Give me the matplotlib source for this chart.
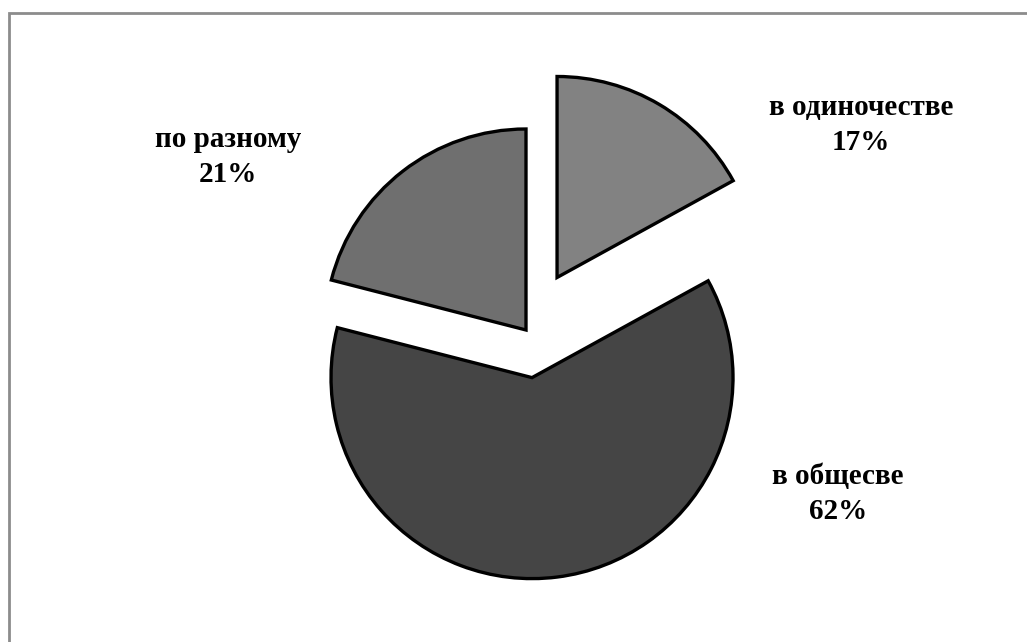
import matplotlib.pyplot as plt
from matplotlib.patches import Rectangle

# Shares of answers
labels = ['в одиночестве', 'в общесве', 'по разному']
shares = [17, 62, 21]
colors = ['#828282', '#454545', '#6f6f6f']

W, H = 1027, 642
fig = plt.figure(figsize=(W / 100, H / 100), dpi=100)
ax = fig.add_axes([0, 0, 1, 1])

# axes in pixel units so the pie can be placed directly
ax.pie(shares, colors=colors, startangle=90, counterclock=False,
       center=(526, H - 330), radius=201, explode=[61, 48, 0],
       wedgeprops=dict(edgecolor='black', linewidth=2.4))
ax.set_xlim(0, W)
ax.set_ylim(0, H)
ax.set_aspect('equal')
ax.axis('off')

# data labels
label_pos = [(861, 125), (838, 494), (228, 157)]
for name, val, (px, py) in zip(labels, shares, label_pos):
    ax.text(px, H - py, f'{name}\n{val}%', ha='center', va='center',
            fontsize=21, fontweight='bold', family='Liberation Serif',
            linespacing=1.4, color='black')

# chart area border
fig.patches.append(Rectangle((8.5 / W, -0.1), 1.2, 1.1 - 13 / H,
                             transform=fig.transFigure, fill=False,
                             edgecolor='#8c8c8c', linewidth=2))

fig.savefig('out.png', dpi=100, facecolor='white')
